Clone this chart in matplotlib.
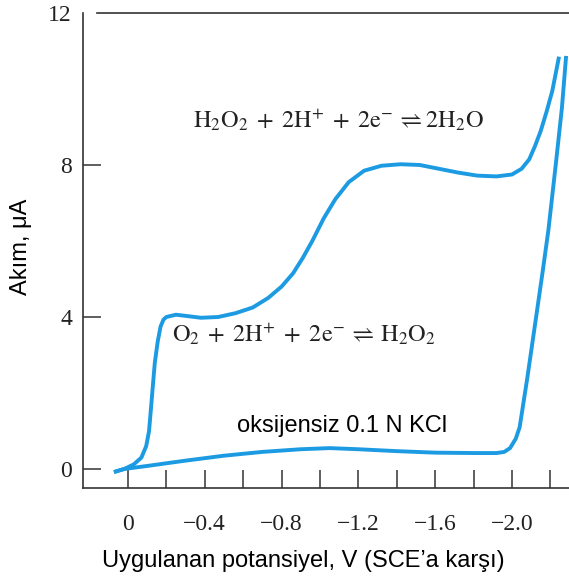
import matplotlib
matplotlib.use("Agg")
import matplotlib.pyplot as plt

# Veriler (okunan değerler)
v_o2 = [0.073, 0.02, -0.03, -0.07, -0.095, -0.11, -0.12, -0.13, -0.14, -0.155, -0.17,
        -0.185, -0.2, -0.25, -0.3, -0.38, -0.47, -0.56, -0.65, -0.73, -0.8, -0.86,
        -0.91, -0.96, -1.02, -1.08, -1.15, -1.23, -1.32, -1.42, -1.52, -1.62,
        -1.72, -1.82, -1.92, -2.0, -2.05, -2.09, -2.12, -2.15, -2.18, -2.21, -2.245]
i_o2 = [-0.08, 0.0, 0.12, 0.3, 0.6, 1.0, 1.6, 2.2, 2.8, 3.35, 3.75,
        3.93, 4.0, 4.06, 4.03, 3.98, 4.0, 4.1, 4.25, 4.5, 4.8, 5.15,
        5.55, 6.0, 6.6, 7.1, 7.55, 7.85, 7.98, 8.02, 8.0, 7.9,
        7.8, 7.72, 7.7, 7.75, 7.9, 8.15, 8.5, 8.9, 9.4, 9.95, 10.85]

v_n2 = [0.073, 0.02, -0.1, -0.3, -0.5, -0.7, -0.9, -1.05, -1.2, -1.4,
        -1.6, -1.8, -1.92, -1.96, -1.99, -2.02, -2.04, -2.08, -2.12, -2.16,
        -2.19, -2.23, -2.26, -2.282]
i_n2 = [-0.08, 0.0, 0.08, 0.22, 0.35, 0.45, 0.52, 0.55, 0.52, 0.47,
        0.43, 0.42, 0.42, 0.45, 0.55, 0.8, 1.1, 2.4, 3.8, 5.2,
        6.3, 8.1, 9.5, 10.87]

x_ticks = [0, -0.2, -0.4, -0.6, -0.8, -1.0, -1.2, -1.4, -1.6, -1.8, -2.0, -2.2]
x_labels = ["0", "", "\u22120.4", "", "\u22120.8", "", "\u22121.2", "", "\u22121.6", "", "\u22122.0", ""]
y_ticks = [0, 4, 8, 12]

plt.rcParams['mathtext.fontset'] = 'stix'
serif = ['Liberation Serif', 'DejaVu Serif']
sans = ['Liberation Sans', 'DejaVu Sans']
mavi = '#1c9be2'

fig = plt.figure(figsize=(5.69, 5.79), dpi=100)
ax = fig.add_axes([83 / 569, 91 / 579, 1 - 83 / 569, (488 - 13) / 579])

ax.plot(v_o2, i_o2, color=mavi, lw=2.8, solid_capstyle='butt', solid_joinstyle='round')
ax.plot(v_n2, i_n2, color=mavi, lw=2.8, solid_capstyle='butt', solid_joinstyle='round')

ax.set_xlim(0.234, -2.297)
ax.set_ylim(-0.5, 12)

ax.spines['right'].set_visible(False)
for s in ['left', 'bottom', 'top']:
    ax.spines[s].set_color('#333333')
    ax.spines[s].set_linewidth(1.2)
ax.spines['top'].set_bounds(0.16, -2.297)

ax.set_xticks(x_ticks)
ax.set_xticklabels(x_labels)
ax.set_yticks(y_ticks)
ax.set_yticklabels([str(t) for t in y_ticks])
ax.tick_params(axis='x', direction='in', length=13, width=1.1, color='#333333', pad=19)
ax.tick_params(axis='y', direction='in', length=13, width=1.1, color='#333333', pad=8)
ax.tick_params(top=False, right=False)
for lab in ax.get_xticklabels() + ax.get_yticklabels():
    lab.set_family(serif)
    lab.set_fontsize(17)
    lab.set_color('#222222')
# 12 etiketinin üst çizgide işareti yok
ax.yaxis.get_major_ticks()[-1].tick1line.set_visible(False)

fig.text(303 / 569, 12 / 579, "Uygulanan potansiyel, V (SCE\u2019a kar\u015f\u0131)",
         ha='center', va='baseline', fontsize=17, family=sans)
fig.text(21 / 569, 1 - 247 / 579, "Ak\u0131m, \u03bcA", rotation=90,
         ha='center', va='center', fontsize=17, family=sans)

ax.text(-0.339, 9.0,
        r'$\mathrm{H_2O_2\;+\;2H^{+}\;+\;2e^{-}\,\rightleftharpoons 2H_2O}$',
        ha='left', va='baseline', fontsize=17.5, color='#222222')
ax.text(-0.229, 3.35,
        r'$\mathrm{O_2\;+\;2H^{+}\;+\;2e^{-}\,\rightleftharpoons\,H_2O_2}$',
        ha='left', va='baseline', fontsize=17.5, color='#222222')
ax.text(-0.568, 0.98, "oksijensiz 0.1 N KCl", ha='left', va='baseline',
        fontsize=17, family=sans)

fig.savefig("out.png", dpi=100)
plt.close(fig)
